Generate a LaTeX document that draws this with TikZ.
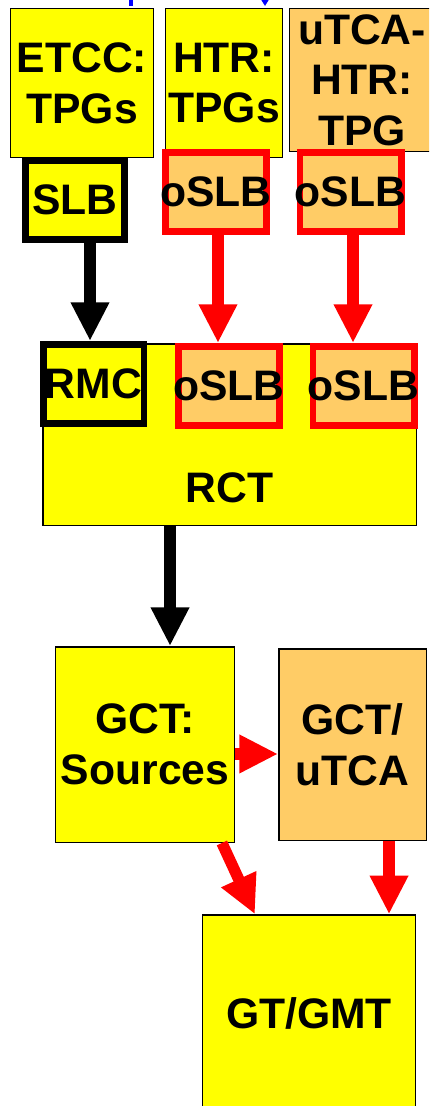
\documentclass[tikz,border=0pt]{standalone}
\usepackage{fontspec}
\setmainfont{Liberation Sans}
\usepackage{xcolor}
\usepackage{tikz}
\usetikzlibrary{arrows.meta,positioning,calc}

\definecolor{boardyellow}{RGB}{255,255,0}
\definecolor{utcaorange}{HTML}{FFCC66}
\newcommand{\boxfont}{\fontsize{32}{38}\selectfont\bfseries}

\begin{document}
\begin{tikzpicture}[
    x=0.75pt, y=-0.75pt,
    board/.style={draw, line width=1.1pt, fill=boardyellow, inner sep=0pt, align=center, font=\boxfont},
    utca/.style={board, fill=utcaorange},
    slbbox/.style={draw, line width=4.9pt, fill=boardyellow, inner sep=0pt, font=\boxfont,
        minimum width=74.6pt, minimum height=59.6pt},
    oslbbox/.style={draw=red, line width=5.2pt, fill=utcaorange, inner ysep=0pt, inner xsep=-5pt,
        font=\boxfont, minimum width=75.8pt, minimum height=59.3pt},
    blackedge/.style={-{Triangle[width=27pt,length=29pt]}, line width=8.5pt},
    rededge/.style={blackedge, red}
]
\clip (0,0) rectangle (429,1106);

% trigger primitive boards
\node[board, minimum width=106.9pt, minimum height=111.4pt] (etcc) at (82,83) {ETCC:\\TPGs};
\node[board, minimum width=87.4pt, minimum height=111.4pt] (htr) at (224,83) {HTR:\\TPGs};
\node[utca, minimum width=108.4pt, minimum height=106.9pt] (utcahtr) at (362,80) {uTCA-\\HTR:\\TPG};

\node[slbbox] (slb) at (75,200) {SLB};
\node[oslbbox] (oslbA) at (216,192) {oSLB};
\node[oslbbox] (oslbB) at (350.5,192) {oSLB};

% incoming links
\coordinate (feedA) at (131,-2);
\coordinate (feedAend) at (131,6);
\draw[blue, line width=3pt] (feedA) -- (feedAend);
\coordinate (feedB) at (265,-12);
\coordinate (feedBend) at (265,6);
\draw[blue, line width=2pt, -{Triangle[width=7pt,length=6pt]}] (feedB) -- (feedBend);

% regional calorimeter trigger
\node[board, minimum width=280.1pt, minimum height=136.1pt] (rct) at (229.5,434.5) {};
\node[font=\boxfont, anchor=base, inner sep=0pt] (rctlabel) at ([yshift=17.5pt]rct.south) {RCT};
\node[slbbox, minimum width=75.4pt] (rmc) at (93.5,384) {RMC};
\node[oslbbox] (oslbC) at (229,386) {oSLB};
\node[oslbbox] (oslbD) at (363.5,386) {oSLB};

% global calorimeter trigger
\node[board, minimum width=133.9pt, minimum height=146.6pt] (gct) at (145,744.5) {GCT:\\Sources};
\node[utca, minimum width=110.6pt, minimum height=143.6pt] (gctu) at (352.5,744.5) {GCT/\\uTCA};
\node[board, minimum width=159.4pt, minimum height=147pt] (gt) at (309,1013) {GT/GMT};

\draw[blackedge] ([xshift=11.25pt]slb.south) -- ([xshift=11.25pt]slb.south |- rmc.north);
\draw[rededge] ([xshift=1.5pt]oslbA.south) -- ([xshift=1.5pt]oslbA.south |- oslbC.north);
\draw[rededge] ([xshift=1.9pt]oslbB.south) -- ([xshift=1.9pt]oslbB.south |- oslbD.north);
\draw[blackedge] ([xshift=-44.6pt]rct.south) -- ([xshift=-44.6pt]rct.south |- gct.north);
\draw[rededge] ([yshift=-7.1pt]gct.east) -- ([yshift=-7.1pt]gct.east -| gctu.west);
\draw[rededge] ([xshift=57.7pt]gct.south) -- ([xshift=39.7pt]gt.north west);
\draw[rededge] ([xshift=27.4pt]gctu.south) -- ([xshift=27.4pt]gctu.south |- gt.north);
\end{tikzpicture}
\end{document}
